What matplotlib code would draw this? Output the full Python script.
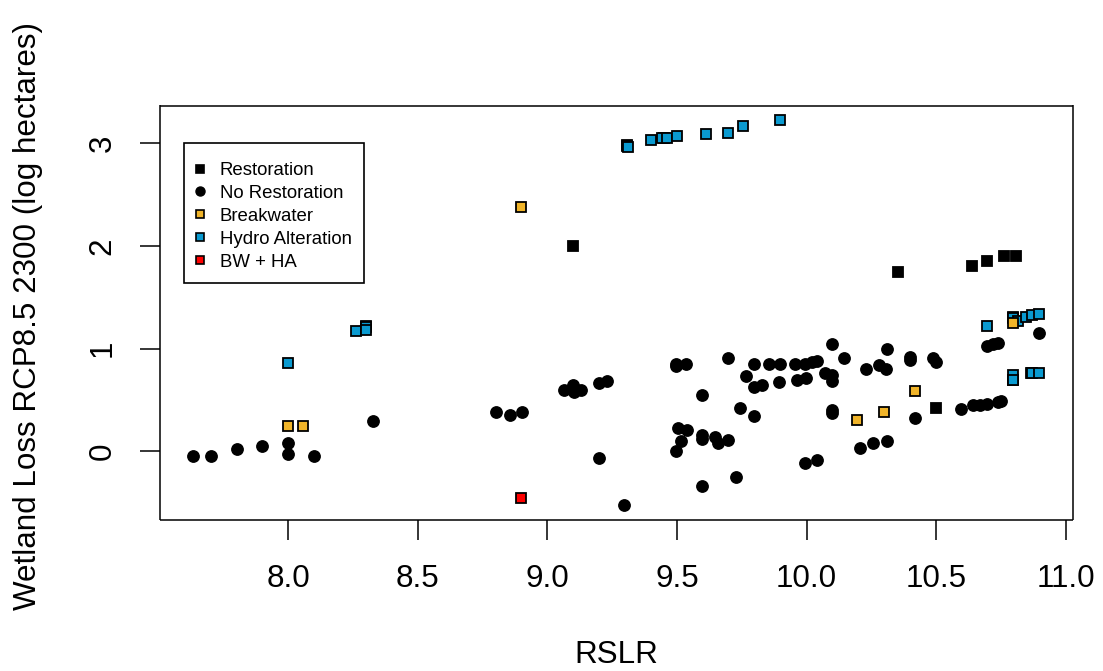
"""Wetland loss (RCP8.5, 2300) vs. RSLR, by restoration type."""

import matplotlib

matplotlib.use("Agg")
import matplotlib.pyplot as plt
from matplotlib.lines import Line2D
from matplotlib.patches import Rectangle

plt.rcParams.update(
    {
        "font.family": ["Liberation Sans", "DejaVu Sans"],
        "axes.linewidth": 1.1,
    }
)

# --- data --------------------------------------------------------------
# Restoration (black filled squares); some sit underneath hydro squares
rest_x = [9.10, 10.355, 10.637, 10.698, 10.763, 10.81, 10.50,
          8.30, 9.306, 9.45, 10.797, 10.797, 10.865]
rest_y = [2.00, 1.75, 1.81, 1.85, 1.90, 1.90, 0.425,
          1.22, 2.985, 3.05, 1.31, 0.70, 0.765]

# No restoration (black circles)
norest_x = [7.631, 7.70, 7.80, 7.90, 8.00, 8.00, 8.10, 8.325,
            8.80, 8.857, 8.90, 9.063, 9.098, 9.104, 9.13, 9.198, 9.23,
            9.198, 9.297, 9.497, 9.497, 9.536, 9.595, 9.697, 9.765,
            9.796, 9.796, 9.742, 9.796, 9.504, 9.54, 9.517, 9.497,
            9.595, 9.595, 9.648, 9.657, 9.697, 9.595, 9.729,
            9.855, 9.897, 9.83, 9.895, 9.957, 9.994, 10.02, 10.04,
            9.962, 9.998, 10.07, 10.10, 10.10, 10.10, 10.143, 10.10,
            10.10, 9.996, 10.04, 10.207, 10.255, 10.31, 10.23, 10.28,
            10.305, 10.31, 10.40, 10.40, 10.49, 10.50, 10.418, 10.595,
            10.643, 10.669, 10.697, 10.74, 10.752, 10.697, 10.72, 10.74,
            10.897]
norest_y = [-0.04, -0.04, 0.02, 0.055, 0.08, -0.03, -0.04, 0.30,
            0.38, 0.355, 0.38, 0.60, 0.645, 0.58, 0.60, 0.67, 0.685,
            -0.06, -0.52, 0.83, 0.85, 0.85, 0.55, 0.91, 0.73,
            0.85, 0.63, 0.42, 0.34, 0.23, 0.21, 0.10, 0.00,
            0.16, 0.12, 0.14, 0.08, 0.11, -0.34, -0.25,
            0.85, 0.85, 0.645, 0.68, 0.855, 0.855, 0.875, 0.88,
            0.70, 0.715, 0.76, 0.74, 0.69, 1.05, 0.91, 0.40,
            0.37, -0.11, -0.08, 0.03, 0.08, 0.105, 0.80, 0.84,
            0.80, 0.995, 0.89, 0.915, 0.905, 0.87, 0.33, 0.41,
            0.45, 0.45, 0.46, 0.48, 0.49, 1.03, 1.05, 1.06,
            1.15]

# Hydro alteration (blue squares)
hydro_x = [8.00, 8.26, 8.30, 8.30, 9.306, 9.312, 9.40, 9.443, 9.46,
           9.499, 9.612, 9.698, 9.756, 9.899, 10.697, 10.797, 10.818,
           10.846, 10.87, 10.897, 10.797, 10.797, 10.87, 10.897]
hydro_y = [0.865, 1.17, 1.21, 1.18, 2.975, 2.96, 3.03, 3.05, 3.05,
           3.07, 3.09, 3.10, 3.17, 3.225, 1.225, 1.30, 1.27,
           1.305, 1.325, 1.34, 0.74, 0.70, 0.76, 0.765]

# Breakwater (orange squares)
bw_x = [8.00, 8.055, 8.897, 10.196, 10.30, 10.418, 10.797]
bw_y = [0.245, 0.25, 2.38, 0.31, 0.38, 0.59, 1.255]

# BW + HA (red square)
bwha_x = [8.897]
bwha_y = [-0.45]

LEGEND_LABELS = ["Restoration", "No Restoration", "Breakwater",
                 "Hydro Alteration", "BW + HA"]

BW_COLOR = "#F0B429"
HA_COLOR = "#0A9AD0"
HA_BW_COLOR = "#FF0000"
FS = 22.6

W, H = 1103, 671
fig = plt.figure(figsize=(W / 100, H / 100), dpi=100)
ax = fig.add_axes([160 / W, 1 - 520 / H, 913 / W, 414.5 / H])
for sp in ax.spines.values():
    sp.set_capstyle("butt")

sq = dict(marker="s", linestyle="none", markersize=7.2,
          markeredgecolor="black", markeredgewidth=1.3)

ax.plot(rest_x, rest_y, color="black", **sq)
ax.plot(norest_x, norest_y, marker="o", linestyle="none", markersize=8.2,
        color="black")
ax.plot(hydro_x, hydro_y, markerfacecolor=HA_COLOR, **sq)
ax.plot(bw_x, bw_y, markerfacecolor=BW_COLOR, **sq)
ax.plot(bwha_x, bwha_y, markerfacecolor=HA_BW_COLOR, **sq)

ax.set_xlim(7.5046, 11.0286)
ax.set_ylim(-0.668, 3.368)
ax.set_xticks([8.0, 8.5, 9.0, 9.5, 10.0, 10.5, 11.0])
ax.set_xticklabels(["8.0", "8.5", "9.0", "9.5", "10.0", "10.5", "11.0"])
ax.set_yticks([0, 1, 2, 3])
ax.tick_params(axis="both", direction="out", length=14.4, width=1.1,
               labelsize=FS)
ax.tick_params(axis="x", pad=17)
ax.tick_params(axis="y", pad=16)
for lab in ax.get_yticklabels():
    lab.set_rotation(90)
    lab.set_va("center")

fig.text(616 / W, 1 - 655 / H, "RSLR", ha="center", va="center", fontsize=FS)
fig.text(28 / W, 1 - 316 / H, "Wetland Loss RCP8.5 2300 (log hectares)",
         ha="center", va="center", rotation=90, fontsize=FS)

# legend: entries without frame, box drawn separately (R-style)
lsq = dict(marker="s", linestyle="none", markersize=6,
           markeredgecolor="black", markeredgewidth=1.2)
handles = [
    Line2D([], [], color="black", **lsq),
    Line2D([], [], color="black", marker="o", linestyle="none",
           markersize=6.5),
    Line2D([], [], markerfacecolor=BW_COLOR, **lsq),
    Line2D([], [], markerfacecolor=HA_COLOR, **lsq),
    Line2D([], [], markerfacecolor=HA_BW_COLOR, **lsq),
]
ax.legend(
    handles=handles,
    labels=LEGEND_LABELS,
    loc="upper left",
    bbox_to_anchor=(193 / W, 1 - 162 / H),
    bbox_transform=fig.transFigure,
    fontsize=13.4,
    frameon=False,
    borderpad=0.0,
    labelspacing=0.32,
    handlelength=0.7,
    handletextpad=0.73,
    borderaxespad=0.0,
)
fig.patches.append(
    Rectangle((184 / W, 1 - 283 / H), 180 / W, 140 / H,
              transform=fig.transFigure, fill=False, edgecolor="black",
              linewidth=1.2, zorder=5)
)

fig.savefig("out.png", dpi=100)
